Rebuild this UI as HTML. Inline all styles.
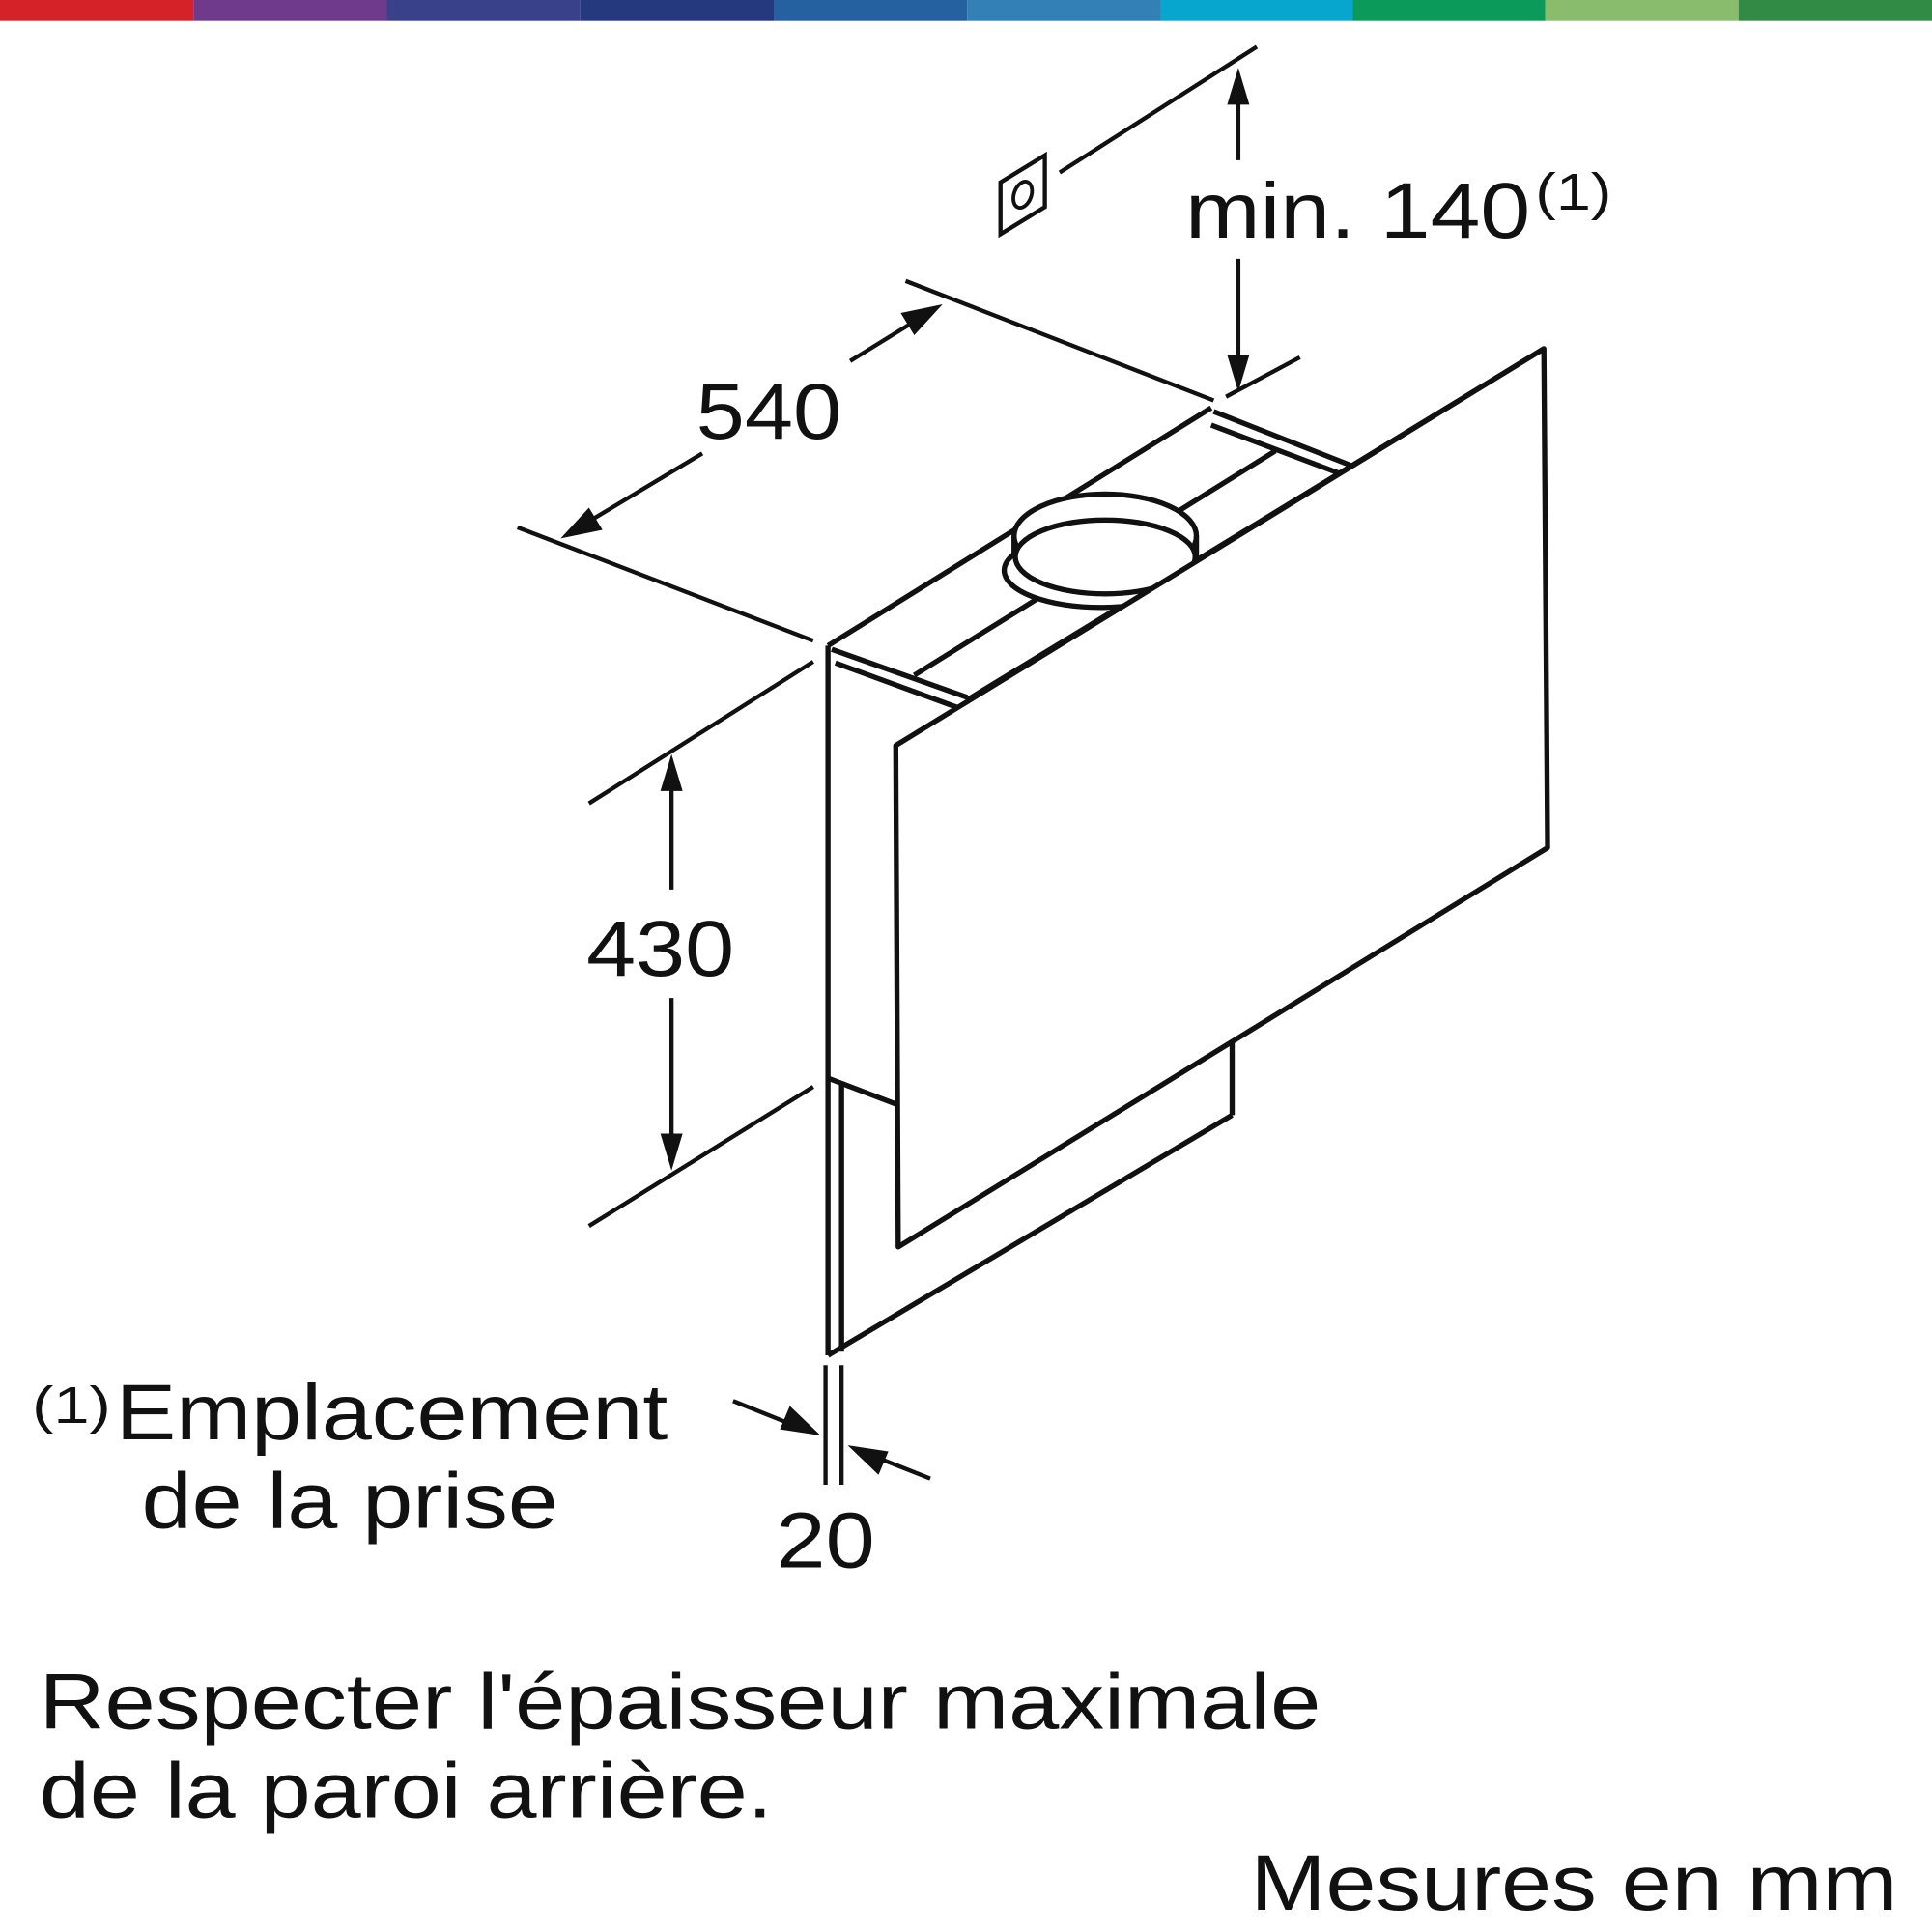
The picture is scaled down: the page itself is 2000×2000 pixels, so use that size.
<!DOCTYPE html>
<html><head><meta charset="utf-8"><style>
html,body{margin:0;padding:0;background:#fff;}
svg{display:block;}
text{font-family:"Liberation Sans",Arial,sans-serif;fill:#111;}
</style></head><body>
<svg width="2000" height="2000" viewBox="0 0 1568 1568" xmlns="http://www.w3.org/2000/svg">
<g>
<rect x="0" y="0" width="157" height="17" fill="#d52229"/>
<rect x="157" y="0" width="157" height="17" fill="#6f3a8c"/>
<rect x="314" y="0" width="157" height="17" fill="#38418a"/>
<rect x="471" y="0" width="157" height="17" fill="#253a7e"/>
<rect x="628" y="0" width="157" height="17" fill="#2560a0"/>
<rect x="785" y="0" width="157" height="17" fill="#3380b7"/>
<rect x="942" y="0" width="156" height="17" fill="#07a6cf"/>
<rect x="1098" y="0" width="156" height="17" fill="#0c9a5a"/>
<rect x="1254" y="0" width="157" height="17" fill="#8abc6d"/>
<rect x="1411" y="0" width="157" height="17" fill="#328b45"/>
</g>
<g stroke="#111" stroke-width="4.2" fill="none" stroke-linejoin="round">
<line x1="672" y1="524" x2="983" y2="331"/>
<line x1="742" y1="548" x2="1035" y2="366"/>
<line x1="785" y1="568" x2="1253" y2="283"/>
<line x1="675" y1="527" x2="785" y2="566"/>
<line x1="678" y1="538" x2="782" y2="576"/>
<line x1="985" y1="334" x2="1097" y2="378"/>
<line x1="983" y1="345" x2="1092" y2="386"/>
<ellipse cx="893" cy="463" rx="78" ry="30" fill="#fff"/>
<ellipse cx="897" cy="435" rx="74" ry="34" fill="#fff"/>
<path d="M823 435 L823 452 M971 435 L971 452"/>
<ellipse cx="897" cy="452" rx="73" ry="30" fill="#fff"/>
<line x1="672" y1="524" x2="672" y2="1100"/>
<line x1="683" y1="878" x2="683" y2="1097"/>
<line x1="672" y1="875" x2="727" y2="896"/>
<line x1="672" y1="1100" x2="1000" y2="905"/>
<line x1="1000" y1="846" x2="1000" y2="905"/>
<polygon points="727,605 1253,283 1256,688 729,1012" fill="#fff"/>
</g>
<g stroke="#111" stroke-width="3.4" fill="none">
<line x1="420" y1="428" x2="660" y2="520"/>
<line x1="735" y1="228" x2="985" y2="325"/>
<line x1="470" y1="428" x2="570" y2="368"/>
<line x1="690" y1="293" x2="750" y2="256"/>
<line x1="478" y1="652" x2="660" y2="537"/>
<line x1="478" y1="995" x2="660" y2="882"/>
<line x1="545" y1="630" x2="545" y2="722"/>
<line x1="545" y1="810" x2="545" y2="932"/>
<line x1="860" y1="140" x2="1020" y2="38"/>
<line x1="995" y1="322" x2="1055" y2="290"/>
<line x1="1005" y1="75" x2="1005" y2="130"/>
<line x1="1005" y1="210" x2="1005" y2="298"/>
<polygon points="812,148 848,126 848,168 812,190"/>
<ellipse cx="830" cy="158" rx="7" ry="11" transform="rotate(20 830 158)" stroke-width="3"/>
<line x1="670" y1="1108" x2="670" y2="1205"/>
<line x1="683" y1="1108" x2="683" y2="1205"/>
<line x1="595" y1="1137" x2="640" y2="1155"/>
<line x1="755" y1="1200" x2="712" y2="1183"/>
</g>
<g fill="#111">
<polygon points="455,437 478,412 489,430"/>
<polygon points="765,247 731,254 742,272"/>
<polygon points="545,612 536,642 554,642"/>
<polygon points="545,950 536,920 554,920"/>
<polygon points="1005,55 996,85 1014,85"/>
<polygon points="1005,318 996,288 1014,288"/>
<polygon points="666,1165 633,1160 641,1141"/>
<polygon points="688,1173 721,1178 713,1197"/>
</g>
<text x="565" y="356" font-size="64" textLength="118" lengthAdjust="spacingAndGlyphs">540</text>
<text x="476" y="792" font-size="64" textLength="120" lengthAdjust="spacingAndGlyphs">430</text>
<text x="962" y="193" font-size="64" textLength="280" lengthAdjust="spacingAndGlyphs">min. 140</text>
<text x="1246" y="170" font-size="42" textLength="62" lengthAdjust="spacingAndGlyphs">(1)</text>
<text x="630" y="1272" font-size="64" textLength="80" lengthAdjust="spacingAndGlyphs">20</text>
<text x="26" y="1155" font-size="42" textLength="64" lengthAdjust="spacingAndGlyphs">(1)</text>
<text x="94" y="1168" font-size="64" textLength="448" lengthAdjust="spacingAndGlyphs">Emplacement</text>
<text x="115" y="1240" font-size="64" textLength="338" lengthAdjust="spacingAndGlyphs">de la prise</text>
<text x="32" y="1403" font-size="64" textLength="1040" lengthAdjust="spacingAndGlyphs">Respecter l'épaisseur maximale</text>
<text x="32" y="1475" font-size="64" textLength="595" lengthAdjust="spacingAndGlyphs">de la paroi arrière.</text>
<text x="1015" y="1550" font-size="64" textLength="525" lengthAdjust="spacingAndGlyphs">Mesures en mm</text>
</svg>
</body></html>
